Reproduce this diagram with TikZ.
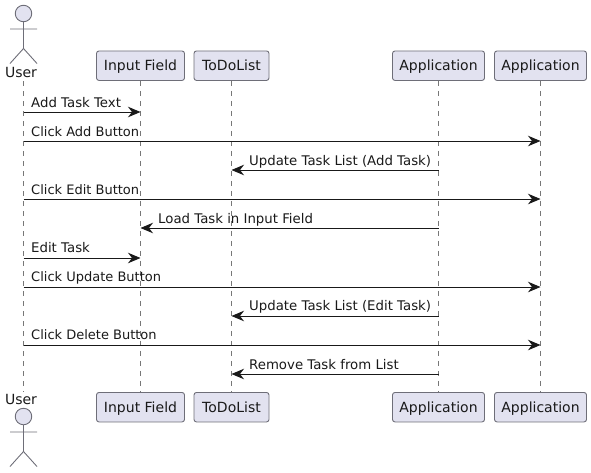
\documentclass[tikz,border=0pt]{standalone}
\usepackage{fontspec}
\setmainfont{DejaVu Sans}
\usetikzlibrary{arrows.meta}
\definecolor{pfill}{HTML}{E2E2F0}
\definecolor{pline}{HTML}{6E6E78}
\definecolor{lline}{HTML}{777777}
\tikzset{
  x=1pt,y=-1pt,
  part/.style={draw=pline,fill=pfill,line width=0.9pt,rounded corners=2.5pt,minimum height=29.5pt,inner sep=0pt,anchor=north,text height=10pt,text depth=0pt,font=\fontsize{14}{14}\selectfont,text=black!90},
  life/.style={draw=lline,line width=0.7pt,dash pattern=on 5pt off 5pt},
  msg/.style={draw=black!90,line width=0.9pt,-{Stealth[length=12.5pt,width=10.5pt,inset=4pt]}},
  lab/.style={anchor=base west,inner sep=0pt,font=\fontsize{13}{13}\selectfont,text=black!90},
  labwide/.style={lab,font=\fontsize{13.3}{13}\selectfont},
  actorline/.style={draw=pline,line width=0.9pt},
  actorhead/.style={circle,draw=pline,fill=pfill,line width=0.9pt,minimum size=16.5pt,inner sep=0pt},
  actorname/.style={anchor=base,inner sep=0pt,font=\fontsize{14}{14}\selectfont,text=black!90}
}
\begin{document}
\begin{tikzpicture}
\useasboundingbox (0,0) rectangle (591,472);
% ends of the actor's lifeline
\coordinate (ut) at (23.5,81); \coordinate (ub) at (23.5,392);
% participants, top
\node[part,minimum width=88pt] (it) at (140.5,50.5) {Input Field};
\node[part,minimum width=75pt] (tt) at (231.5,50.5) {ToDoList};
\node[part,minimum width=92pt] (at) at (438.5,50.5) {Application};
\node[part,minimum width=92pt] (bt) at (540.5,50.5) {Application};
% participants, bottom
\node[part,minimum width=88pt] (ib) at (140.5,392) {Input Field};
\node[part,minimum width=75pt] (tb) at (231.5,392) {ToDoList};
\node[part,minimum width=92pt] (ab) at (438.5,392) {Application};
\node[part,minimum width=92pt] (bb) at (540.5,392) {Application};
% lifelines
\draw[life] (ut) -- (ub);
\draw[life] (it.south) -- (ib.north);
\draw[life] (tt.south) -- (tb.north);
\draw[life] (at.south) -- (ab.north);
\draw[life] (bt.south) -- (bb.north);
% actor top
\node[actorhead] (h1) at (23.5,13.5) {};
\coordinate (w1) at (23.5,48.5);
\coordinate (al1) at (10,29); \coordinate (ar1) at (37,29);
\coordinate (fl1) at (10,63.5); \coordinate (fr1) at (37,63.5);
\draw[actorline] (h1.south) -- (w1) (al1) -- (ar1) (w1) -- (fl1) (w1) -- (fr1);
\node[actorname] (un1) at (21,77.5) {User};
% actor bottom
\node[actorname] (un2) at (21,404) {User};
\node[actorhead] (h2) at (23.5,416.5) {};
\coordinate (w2) at (23.5,451.5);
\coordinate (al2) at (10,432); \coordinate (ar2) at (37,432);
\coordinate (fl2) at (10,466.5); \coordinate (fr2) at (37,466.5);
\draw[actorline] (h2.south) -- (w2) (al2) -- (ar2) (w2) -- (fl2) (w2) -- (fr2);
% messages
\foreach \n/\y in {1/112,2/141,3/170,4/199,5/228,6/258,7/287,8/316,9/345,10/374}{\coordinate (m\n) at (0,\y);}
\draw[msg] (ut |- m1) -- (it.south |- m1);
\node[labwide] (l1) at (31,107) {Add Task Text};
\draw[msg] (ut |- m2) -- (bt.south |- m2);
\node[lab] (l2) at (31,136) {Click Add Button};
\draw[msg] (at.south |- m3) -- (tt.south |- m3);
\node[labwide] (l3) at (249,165) {Update Task List (Add Task)};
\draw[msg] (ut |- m4) -- (bt.south |- m4);
\node[lab] (l4) at (31,194) {Click Edit Button};
\draw[msg] (at.south |- m5) -- (it.south |- m5);
\node[labwide] (l5) at (158,223.5) {Load Task in Input Field};
\draw[msg] (ut |- m6) -- (it.south |- m6);
\node[labwide] (l6) at (31,252.5) {Edit Task};
\draw[msg] (ut |- m7) -- (bt.south |- m7);
\node[lab] (l7) at (31,281.5) {Click Update Button};
\draw[msg] (at.south |- m8) -- (tt.south |- m8);
\node[labwide] (l8) at (249,310.5) {Update Task List (Edit Task)};
\draw[msg] (ut |- m9) -- (bt.south |- m9);
\node[lab] (l9) at (31,339.5) {Click Delete Button};
\draw[msg] (at.south |- m10) -- (tt.south |- m10);
\node[labwide] (l10) at (249,369) {Remove Task from List};
\end{tikzpicture}
\end{document}
